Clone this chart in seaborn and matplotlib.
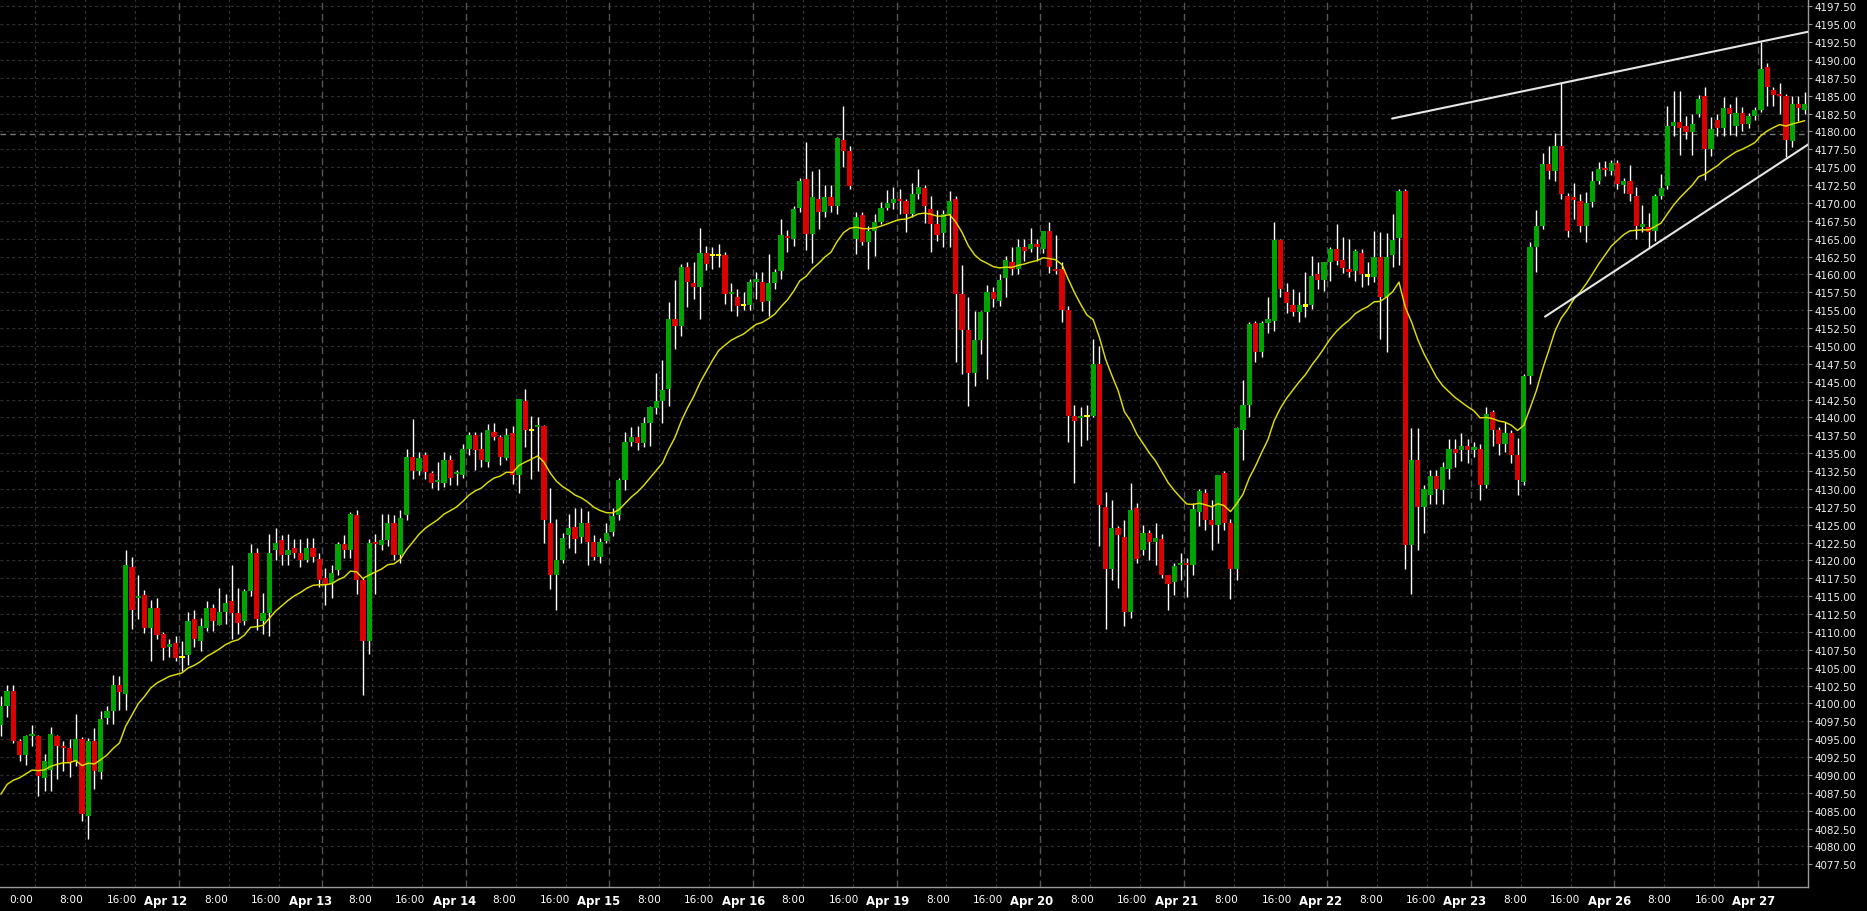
import numpy as np
import pandas as pd
import matplotlib
matplotlib.use("Agg")
import matplotlib.pyplot as plt
from matplotlib.transforms import ScaledTranslation
import seaborn as sns

# hourly OHLC (index 0 = first visible candle)
opens = [
    4097.0, 4099.6, 4101.8, 4094.8, 4092.8, 4095.4, 4095.4, 4089.6, 4090.7, 4095.4,
    4094.0, 4093.8, 4091.8, 4095.0, 4084.3, 4094.8, 4090.4, 4098.0, 4099.0, 4102.6,
    4101.3, 4119.1, 4114.7, 4115.1, 4110.6, 4113.4, 4109.7, 4107.9, 4108.5, 4106.4,
    4106.8, 4111.8, 4108.8, 4110.6, 4113.4, 4111.0, 4112.8, 4114.3, 4112.7, 4111.5,
    4115.7, 4121.0, 4111.5, 4112.7, 4121.4, 4122.8, 4120.8, 4121.7, 4121.0, 4120.1,
    4121.7, 4120.2, 4117.5, 4116.7, 4118.6, 4122.3, 4121.5, 4126.3, 4117.3, 4108.8,
    4122.5, 4122.1, 4122.8, 4125.2, 4120.8, 4126.3, 4134.5, 4132.5, 4134.8, 4132.2,
    4131.0, 4130.9, 4134.0, 4132.1, 4132.0, 4135.6, 4137.5, 4135.6, 4133.8, 4137.9,
    4137.3, 4134.3, 4137.8, 4131.9, 4142.3, 4138.1, 4138.6, 4138.8, 4125.2, 4117.9,
    4120.1, 4123.6, 4124.7, 4123.3, 4125.2, 4122.6, 4120.5, 4122.7, 4124.0, 4126.3,
    4131.2, 4136.6, 4137.3, 4136.4, 4139.2, 4141.3, 4142.3, 4144.0, 4153.8, 4152.8,
    4161.0, 4158.8, 4158.3, 4163.0, 4162.6, 4162.6, 4162.7, 4157.2, 4156.9, 4155.6,
    4155.7, 4159.0, 4159.0, 4156.3, 4158.8, 4160.5, 4165.2, 4164.9, 4169.3, 4173.3,
    4165.6, 4170.5, 4168.8, 4170.8, 4169.6, 4178.8, 4177.3, 4165.0, 4168.3, 4164.6,
    4166.1, 4167.4, 4169.3, 4170.0, 4170.5, 4170.2, 4168.5, 4171.2, 4172.1, 4169.2,
    4167.0, 4165.8, 4168.4, 4170.5, 4157.3, 4152.2, 4146.2, 4150.8, 4154.8, 4157.5,
    4156.3, 4159.5, 4161.7, 4160.8, 4163.9, 4163.6, 4164.3, 4163.6, 4166.1, 4160.8,
    4160.8, 4155.0, 4140.2, 4139.9, 4140.1, 4140.2, 4147.5, 4127.5, 4118.8, 4124.5,
    4123.3, 4112.8, 4127.3, 4121.4, 4123.9, 4122.6, 4123.0, 4117.9, 4117.0, 4119.3,
    4119.7, 4119.3, 4126.8, 4129.5, 4125.6, 4125.0, 4132.2, 4125.2, 4118.8, 4138.3,
    4141.7, 4153.2, 4149.1, 4153.2, 4153.5, 4164.8, 4157.5, 4155.7, 4154.8, 4155.5,
    4155.7, 4160.0, 4159.2, 4161.7, 4163.6, 4162.0, 4160.8, 4160.5, 4163.0, 4159.7,
    4159.6, 4162.5, 4156.9, 4162.7, 4165.1, 4171.6, 4122.1, 4134.0, 4127.5, 4129.1,
    4131.8, 4129.8, 4132.8, 4135.6, 4135.4, 4136.0, 4135.5, 4135.6, 4130.6, 4140.7,
    4138.3, 4136.3, 4137.8, 4134.8, 4131.0, 4145.8, 4163.9, 4166.8, 4175.4, 4174.4,
    4177.9, 4170.9, 4170.8, 4170.2, 4166.8, 4170.1, 4173.1, 4174.8, 4174.4, 4175.6,
    4172.5, 4173.1, 4171.0, 4166.7, 4166.7, 4166.1, 4171.0, 4172.3, 4180.8, 4181.3,
    4180.8, 4179.9, 4182.4, 4184.9, 4177.5, 4181.6, 4180.5, 4183.3, 4180.8, 4182.6,
    4181.0, 4182.2, 4183.0, 4189.0, 4185.8, 4185.1, 4184.9, 4178.6, 4183.8, 4183.0,
]
highs = [
    4101.0, 4102.6, 4102.6, 4095.0, 4095.6, 4097.0, 4095.6, 4093.0, 4096.7, 4095.6,
    4094.8, 4095.0, 4098.5, 4095.3, 4095.2, 4096.5, 4099.0, 4099.7, 4104.0, 4103.9,
    4121.5, 4120.5, 4118.0, 4115.8, 4114.4, 4114.7, 4110.0, 4109.0, 4109.5, 4108.8,
    4112.8, 4113.0, 4112.0, 4114.3, 4113.9, 4116.2, 4115.3, 4119.3, 4116.2, 4116.0,
    4122.3, 4121.7, 4115.4, 4123.7, 4124.5, 4123.5, 4123.7, 4123.0, 4123.0, 4123.2,
    4123.2, 4121.0, 4119.0, 4119.3, 4122.6, 4123.5, 4126.8, 4127.1, 4117.5, 4123.0,
    4123.7, 4126.5, 4126.5, 4126.3, 4127.1, 4135.6, 4139.8, 4135.2, 4135.2, 4132.5,
    4133.8, 4135.2, 4134.8, 4132.6, 4136.3, 4137.9, 4137.9, 4137.9, 4139.1, 4139.2,
    4137.5, 4138.5, 4138.8, 4142.6, 4144.0, 4140.2, 4140.0, 4139.0, 4130.2, 4125.8,
    4123.9, 4126.5, 4127.4, 4127.4, 4126.9, 4123.5, 4123.2, 4125.2, 4127.4, 4131.5,
    4137.9, 4138.6, 4138.8, 4140.0, 4141.6, 4146.2, 4148.0, 4156.2, 4159.2, 4161.5,
    4161.8, 4161.8, 4166.5, 4164.0, 4163.9, 4164.2, 4163.1, 4158.8, 4157.9, 4157.5,
    4159.3, 4160.4, 4160.4, 4162.8, 4160.8, 4167.8, 4166.2, 4169.6, 4173.5, 4178.5,
    4174.5, 4174.7, 4172.5, 4172.5, 4179.2, 4183.5, 4178.0, 4168.7, 4168.7, 4166.8,
    4168.5, 4170.1, 4171.8, 4172.2, 4172.0, 4170.5, 4172.8, 4174.7, 4172.5, 4170.9,
    4169.0, 4169.0, 4171.6, 4170.9, 4161.3, 4156.8, 4154.9, 4154.9, 4158.5, 4158.3,
    4160.0, 4162.6, 4163.8, 4165.0, 4164.9, 4166.5, 4164.9, 4166.1, 4167.4, 4165.5,
    4161.7, 4155.6, 4141.7, 4141.5, 4141.7, 4151.0, 4150.0, 4129.6, 4128.5, 4124.8,
    4125.6, 4130.9, 4128.0, 4124.9, 4124.3, 4125.2, 4123.7, 4118.0, 4119.7, 4121.0,
    4120.4, 4128.0, 4130.0, 4130.0, 4128.4, 4132.0, 4132.5, 4125.8, 4138.6, 4145.2,
    4153.4, 4153.5, 4153.5, 4156.9, 4167.4, 4165.0, 4158.8, 4158.0, 4157.5, 4160.3,
    4162.6, 4161.7, 4161.7, 4163.8, 4167.1, 4165.2, 4165.0, 4163.6, 4163.6, 4161.7,
    4166.1, 4166.0, 4165.8, 4168.5, 4171.9, 4171.9, 4138.5, 4138.5, 4130.5, 4132.6,
    4132.6, 4133.8, 4137.0, 4137.0, 4137.8, 4137.0, 4136.5, 4136.3, 4141.5, 4141.1,
    4138.6, 4139.3, 4138.3, 4137.1, 4146.1, 4164.5, 4169.0, 4177.0, 4178.0, 4179.8,
    4186.9, 4171.4, 4172.8, 4171.2, 4171.5, 4174.4, 4175.7, 4175.9, 4176.0, 4176.0,
    4173.5, 4175.3, 4172.2, 4169.7, 4168.6, 4171.2, 4174.0, 4183.5, 4185.6, 4185.6,
    4182.1, 4182.4, 4185.1, 4186.2, 4182.0, 4182.4, 4184.8, 4183.8, 4184.8, 4183.4,
    4182.6, 4183.4, 4192.5, 4189.6, 4186.2, 4186.8, 4185.2, 4185.0, 4185.0, 4185.5,
]
lows = [
    4095.5, 4098.1, 4094.5, 4091.9, 4091.4, 4094.1, 4087.0, 4087.7, 4087.7, 4089.4,
    4090.5, 4089.7, 4091.2, 4083.5, 4081.0, 4088.0, 4089.4, 4097.1, 4097.1, 4099.1,
    4099.1, 4110.4, 4111.8, 4109.8, 4106.0, 4109.0, 4106.1, 4106.5, 4106.0, 4104.5,
    4105.4, 4107.9, 4107.4, 4110.1, 4110.2, 4111.0, 4111.1, 4109.0, 4109.7, 4111.0,
    4115.0, 4110.3, 4109.7, 4109.5, 4120.0, 4119.4, 4119.4, 4120.3, 4119.1, 4119.8,
    4119.8, 4116.3, 4113.7, 4114.8, 4118.0, 4120.4, 4120.3, 4115.3, 4101.2, 4106.9,
    4115.3, 4121.4, 4122.0, 4120.1, 4119.6, 4125.7, 4131.4, 4131.9, 4131.4, 4130.1,
    4129.9, 4130.3, 4130.5, 4130.5, 4131.5, 4134.7, 4132.7, 4133.0, 4133.0, 4136.8,
    4133.4, 4134.0, 4130.7, 4129.5, 4135.9, 4131.4, 4132.5, 4122.5, 4116.0, 4113.0,
    4119.7, 4121.8, 4121.1, 4122.5, 4119.4, 4120.0, 4119.7, 4122.4, 4123.4, 4125.7,
    4129.9, 4136.0, 4135.5, 4135.9, 4136.0, 4140.5, 4139.2, 4141.6, 4149.6, 4151.4,
    4155.4, 4156.5, 4153.7, 4160.6, 4160.7, 4161.0, 4155.9, 4154.9, 4154.2, 4155.0,
    4155.0, 4156.5, 4154.9, 4154.2, 4158.0, 4159.4, 4163.1, 4164.0, 4168.7, 4163.4,
    4161.6, 4166.4, 4168.0, 4168.7, 4168.5, 4175.0, 4171.9, 4162.8, 4164.1, 4160.7,
    4162.6, 4167.0, 4169.0, 4169.1, 4168.4, 4166.0, 4168.0, 4170.5, 4167.2, 4163.2,
    4164.7, 4163.9, 4163.8, 4147.7, 4146.1, 4141.6, 4144.4, 4148.9, 4145.4, 4155.4,
    4155.6, 4156.8, 4159.9, 4160.0, 4161.9, 4163.1, 4161.9, 4163.0, 4160.2, 4160.0,
    4153.4, 4136.5, 4130.9, 4136.0, 4136.8, 4140.0, 4122.0, 4110.4, 4117.2, 4116.2,
    4110.8, 4112.0, 4119.6, 4120.7, 4120.0, 4119.4, 4117.5, 4113.0, 4115.2, 4117.2,
    4114.9, 4117.9, 4124.8, 4124.2, 4121.4, 4122.4, 4124.2, 4114.6, 4117.2, 4134.0,
    4140.0, 4147.7, 4148.5, 4151.8, 4152.1, 4156.8, 4154.6, 4154.2, 4153.4, 4154.0,
    4155.2, 4157.9, 4157.7, 4159.1, 4161.3, 4160.2, 4159.7, 4159.1, 4158.2, 4158.5,
    4159.0, 4150.9, 4149.2, 4161.0, 4161.3, 4118.8, 4115.3, 4121.4, 4123.9, 4127.9,
    4127.9, 4127.9, 4131.4, 4133.0, 4133.9, 4133.6, 4134.5, 4128.5, 4130.2, 4136.0,
    4134.7, 4135.1, 4133.6, 4129.1, 4130.5, 4144.7, 4160.3, 4166.4, 4173.4, 4173.0,
    4170.5, 4165.2, 4167.8, 4166.0, 4164.5, 4169.5, 4172.7, 4173.7, 4173.9, 4171.9,
    4171.4, 4170.2, 4165.0, 4165.9, 4163.7, 4164.7, 4170.5, 4171.9, 4179.4, 4176.7,
    4179.0, 4176.7, 4182.0, 4173.2, 4176.6, 4179.4, 4179.4, 4179.5, 4179.4, 4180.1,
    4180.5, 4181.6, 4182.7, 4183.5, 4183.5, 4182.4, 4176.4, 4177.8, 4181.5, 4182.4,
]
closes = [
    4099.6, 4101.8, 4094.8, 4092.8, 4095.4, 4095.7, 4089.8, 4092.0, 4095.7, 4094.1,
    4093.8, 4091.8, 4095.0, 4084.5, 4094.8, 4090.6, 4097.8, 4098.9, 4102.6, 4101.6,
    4119.3, 4113.0, 4115.0, 4110.6, 4113.4, 4109.6, 4107.7, 4108.3, 4106.3, 4106.4,
    4111.6, 4109.0, 4110.9, 4113.4, 4111.6, 4112.8, 4114.0, 4112.7, 4111.3, 4115.7,
    4121.0, 4111.8, 4112.7, 4121.0, 4122.5, 4120.8, 4121.5, 4121.0, 4120.1, 4121.7,
    4120.5, 4117.3, 4116.6, 4118.2, 4122.3, 4121.4, 4126.5, 4117.3, 4108.8, 4122.5,
    4122.3, 4122.8, 4125.2, 4120.8, 4126.0, 4134.5, 4132.5, 4134.3, 4132.3, 4130.9,
    4131.2, 4134.0, 4131.5, 4132.4, 4135.6, 4137.5, 4135.4, 4134.0, 4138.2, 4137.3,
    4134.5, 4137.5, 4131.9, 4142.6, 4138.2, 4138.1, 4138.9, 4125.6, 4117.9, 4120.1,
    4123.2, 4124.5, 4123.0, 4125.2, 4122.6, 4120.5, 4122.6, 4123.9, 4126.2, 4131.2,
    4136.5, 4137.3, 4136.4, 4139.2, 4141.4, 4142.3, 4143.8, 4153.8, 4152.8, 4161.0,
    4158.9, 4158.3, 4163.0, 4161.4, 4162.6, 4162.6, 4157.2, 4157.4, 4155.6, 4155.6,
    4159.0, 4159.1, 4156.1, 4158.8, 4160.4, 4165.5, 4165.1, 4169.2, 4173.1, 4165.6,
    4170.8, 4168.8, 4170.8, 4169.6, 4179.1, 4177.3, 4172.3, 4168.1, 4164.6, 4166.1,
    4167.4, 4169.3, 4170.0, 4170.6, 4170.3, 4168.4, 4171.2, 4172.2, 4169.6, 4167.0,
    4165.5, 4168.4, 4170.3, 4157.3, 4152.2, 4146.2, 4150.8, 4154.8, 4157.5, 4156.6,
    4159.2, 4162.0, 4160.8, 4163.9, 4163.3, 4164.3, 4163.9, 4166.1, 4161.1, 4160.5,
    4155.0, 4140.2, 4139.5, 4140.2, 4140.1, 4147.5, 4127.8, 4118.8, 4124.5, 4123.6,
    4112.8, 4127.1, 4120.2, 4123.9, 4122.6, 4123.2, 4117.9, 4116.7, 4119.2, 4119.5,
    4119.3, 4127.2, 4129.7, 4125.6, 4124.9, 4131.9, 4125.3, 4118.8, 4138.5, 4141.7,
    4153.0, 4149.1, 4153.2, 4153.8, 4164.8, 4158.0, 4156.0, 4154.8, 4155.7, 4155.5,
    4159.8, 4159.2, 4161.7, 4163.6, 4161.9, 4160.9, 4160.3, 4163.3, 4160.1, 4159.7,
    4162.5, 4156.9, 4162.5, 4164.8, 4171.6, 4122.1, 4134.0, 4127.5, 4130.0, 4131.8,
    4130.0, 4133.0, 4135.6, 4135.0, 4136.0, 4135.4, 4135.6, 4130.6, 4140.5, 4138.3,
    4136.3, 4137.8, 4134.8, 4131.3, 4145.8, 4163.9, 4166.8, 4175.4, 4174.4, 4177.9,
    4171.2, 4166.1, 4170.4, 4166.8, 4170.0, 4173.0, 4174.8, 4174.6, 4175.6, 4172.6,
    4173.1, 4171.2, 4166.8, 4167.0, 4166.0, 4171.0, 4172.1, 4180.7, 4181.3, 4180.5,
    4179.9, 4181.0, 4184.6, 4177.5, 4180.4, 4180.5, 4183.3, 4182.4, 4182.6, 4181.0,
    4182.1, 4183.0, 4188.8, 4186.2, 4185.1, 4184.9, 4178.8, 4183.8, 4183.3, 4183.9,
]

ma_start = 4087.3          # moving average level at the first candle
ma_span = 20

day_labels = ["0:00", "Apr 12", "Apr 13", "Apr 14", "Apr 15", "Apr 16",
              "Apr 19", "Apr 20", "Apr 21", "Apr 22", "Apr 23", "Apr 26", "Apr 27"]
hour_labels = ["8:00", "16:00"]

# drawn trend lines (candle index, price)
top_line_x = [222.9, 289.6]
top_line_y = [4181.8, 4193.95]
bot_line_x = [247.4, 289.6]
bot_line_y = [4154.1, 4178.2]
marker_price = 4179.6

#############################################################################
df = pd.DataFrame({"open": opens, "high": highs, "low": lows, "close": closes})
df["idx"] = np.arange(len(df))
df["high"] = df[["high", "open", "close"]].max(axis=1)
df["low"] = df[["low", "open", "close"]].min(axis=1)
df["ma"] = pd.Series([ma_start] + closes[1:]).ewm(span=ma_span, adjust=False).mean()

GREEN, RED, DOJI = "#00a400", "#dc0000", "#ffff00"
df["color"] = np.where(df.close > df.open, GREEN, np.where(df.close < df.open, RED, DOJI))
body_lo = df[["open", "close"]].min(axis=1)
body_h = (df.close - df.open).abs().clip(lower=0.3)

sns.set_theme(style="dark")
plt.rcParams["font.family"] = ["DejaVu Sans"]

fig = plt.figure(figsize=(18.67, 9.12), dpi=100, facecolor="black")
ax = fig.add_axes([0, 24 / 912, 1808 / 1867, 888 / 912])
ax.set_facecolor("black")

XMIN, XMAX = -0.14, 289.53

# tick positions: 23 hourly candles per session, first midnight at candle 6
tick_pos, tick_lab, is_day = [], [], []
for d, lab in enumerate(day_labels):
    start = 6 + 23 * d
    tick_pos.append(start - 0.5); tick_lab.append(lab); is_day.append(d > 0)
    if d < len(day_labels) - 1:
        for k, hl in enumerate(hour_labels):
            tick_pos.append(start + 8 * (k + 1) - 0.5); tick_lab.append(hl); is_day.append(False)

yticks = np.arange(4077.5, 4197.51, 2.5)

# grid
for y in yticks:
    ax.axhline(y, color="#2f2f2f", lw=0.85, ls=(0, (2.5, 2.5)), zorder=0)
for x, dflag in zip(tick_pos, is_day):
    if dflag:
        ax.axvline(x, color="#555555", lw=1.0, ls=(0, (5, 3)), zorder=0)
    else:
        ax.axvline(x, color="#333333", lw=0.85, ls=(0, (2.5, 2.5)), zorder=0)
ax.axhline(marker_price, color="#7a7a7a", lw=1.0, ls=(0, (4, 3)), zorder=0.5)

# candles
ax.vlines(df.idx, df.low, df.high, color="white", lw=1.0, zorder=2)
ax.bar(df.idx, body_h, bottom=body_lo, width=0.84, color=df.color, linewidth=0, zorder=3)

# moving average
sns.lineplot(x=df.idx, y=df.ma, ax=ax, color="#dede00", lw=1.05, zorder=4)

# trend lines
ax.plot(top_line_x, top_line_y, color="#e6e6e6", lw=1.5, zorder=5)
ax.plot(bot_line_x, bot_line_y, color="#e6e6e6", lw=1.5, zorder=5)

ax.set_xlim(XMIN, XMAX)
ax.set_ylim(4074.33, 4198.52)
ax.set_xlabel("")
ax.set_ylabel("")

ax.yaxis.tick_right()
ax.set_yticks(yticks)
ax.set_yticklabels([f"{v:.2f}" for v in yticks])
ax.tick_params(axis="y", length=3, width=0.8, color="#9a9a9a", labelcolor="#f0f0f0",
               labelsize=7.4, pad=2, right=True, left=False)

ax.set_xticks(tick_pos)
ax.set_xticklabels(tick_lab)
ax.tick_params(axis="x", length=0, labelcolor="white", labelsize=7.6, pad=5)
for lbl, pos, dflag in zip(ax.get_xticklabels(), tick_pos, is_day):
    frac = (pos - XMIN) / (XMAX - XMIN)
    off = -14 + 10 * frac
    lbl.set_transform(lbl.get_transform() + ScaledTranslation(off / 100, 0, fig.dpi_scale_trans))
    if dflag:
        lbl.set_fontweight("bold")
        lbl.set_fontsize(8.4)

for s in ["left", "top"]:
    ax.spines[s].set_visible(False)
for s in ["right", "bottom"]:
    ax.spines[s].set_visible(True)
    ax.spines[s].set_color("#9a9a9a")
    ax.spines[s].set_linewidth(1.0)
ax.grid(False)

fig.savefig("out.png", dpi=100, facecolor="black")
